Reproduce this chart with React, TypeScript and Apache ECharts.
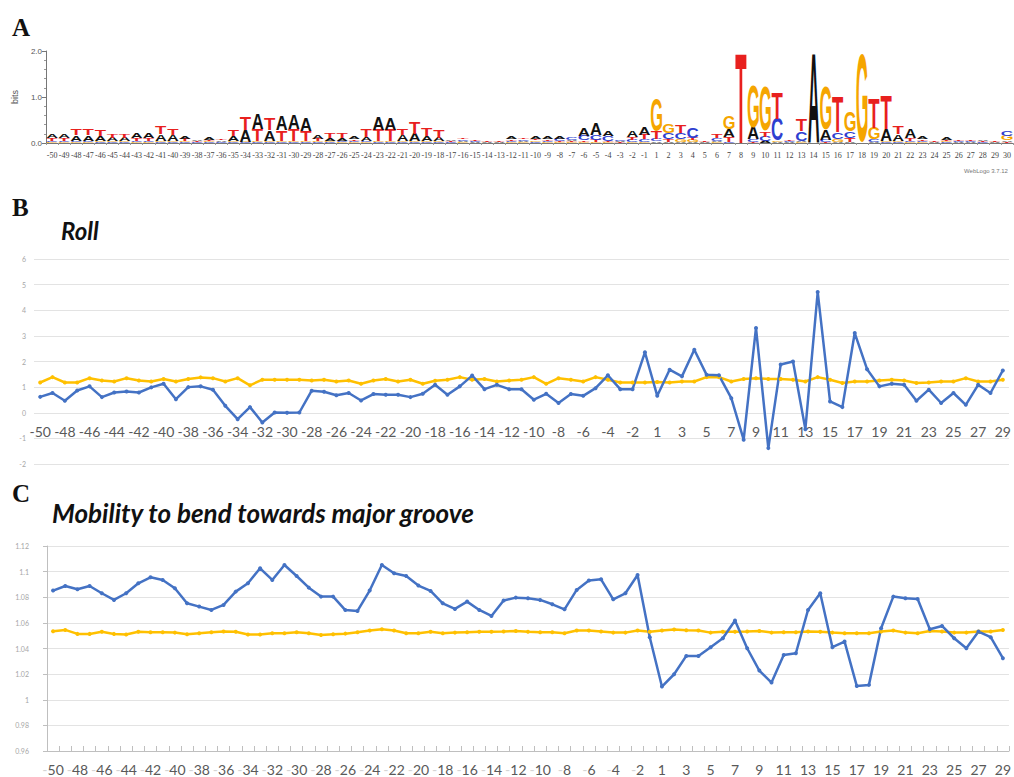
import React, { useEffect, useRef } from "react";
import * as echarts from "echarts";

// ---- Panel A: sequence logo (bits per base, per position) ----
const logoPositions = [
  "-50", "-49", "-48", "-47", "-46", "-45", "-44", "-43", "-42", "-41",
  "-40", "-39", "-38", "-37", "-36", "-35", "-34", "-33", "-32", "-31",
  "-30", "-29", "-28", "-27", "-26", "-25", "-24", "-23", "-22", "-21",
  "-20", "-19", "-18", "-17", "-16", "-15", "-14", "-13", "-12", "-11",
  "-10", "-9", "-8", "-7", "-6", "-5", "-4", "-3", "-2", "-1",
  "1", "2", "3", "4", "5", "6", "7", "8", "9", "10",
  "11", "12", "13", "14", "15", "16", "17", "18", "19", "20",
  "21", "22", "23", "24", "25", "26", "27", "28", "29", "30",
];

const bitsA = [
  0.07, 0.07, 0.12, 0.12, 0.12, 0.07, 0.07, 0.12, 0.12, 0.15,
  0.13, 0.06, 0.03, 0.04, 0.03, 0.10, 0.24, 0.33, 0.23, 0.30,
  0.30, 0.28, 0.07, 0.06, 0.06, 0.06, 0.08, 0.28, 0.26, 0.13,
  0.16, 0.12, 0.07, 0.03, 0.03, 0.02, 0.01, 0.01, 0.04, 0.03,
  0.04, 0.06, 0.06, 0.03, 0.17, 0.24, 0.12, 0.02, 0.14, 0.17,
  0.03, 0.03, 0.03, 0.03, 0.01, 0.03, 0.18, 0.0, 0.27, 0.04,
  0.02, 0.02, 0.03, 1.95, 0.22, 0.03, 0.03, 0.0, 0.03, 0.25,
  0.15, 0.20, 0.04, 0.01, 0.04, 0.02, 0.02, 0.03, 0.01, 0.03,
];
const bitsC = [
  0.03, 0.03, 0.03, 0.03, 0.02, 0.02, 0.02, 0.03, 0.03, 0.02,
  0.02, 0.02, 0.02, 0.02, 0.02, 0.02, 0.02, 0.02, 0.02, 0.02,
  0.02, 0.02, 0.02, 0.02, 0.03, 0.03, 0.03, 0.02, 0.02, 0.02,
  0.02, 0.02, 0.02, 0.02, 0.03, 0.02, 0.01, 0.01, 0.03, 0.03,
  0.03, 0.03, 0.04, 0.06, 0.10, 0.12, 0.10, 0.02, 0.05, 0.05,
  0.06, 0.15, 0.14, 0.24, 0.01, 0.05, 0.02, 0.0, 0.04, 0.10,
  0.47, 0.02, 0.20, 0.0, 0.04, 0.15, 0.14, 0.0, 0.05, 0.02,
  0.02, 0.03, 0.03, 0.01, 0.02, 0.02, 0.02, 0.02, 0.01, 0.12,
];
const bitsG = [
  0.02, 0.02, 0.02, 0.02, 0.02, 0.02, 0.02, 0.02, 0.02, 0.02,
  0.02, 0.02, 0.01, 0.02, 0.01, 0.02, 0.02, 0.02, 0.02, 0.02,
  0.02, 0.02, 0.02, 0.02, 0.02, 0.02, 0.02, 0.02, 0.02, 0.02,
  0.02, 0.02, 0.02, 0.01, 0.02, 0.01, 0.01, 0.01, 0.02, 0.02,
  0.03, 0.02, 0.02, 0.02, 0.03, 0.03, 0.02, 0.01, 0.02, 0.03,
  0.70, 0.20, 0.05, 0.04, 0.01, 0.02, 0.29, 0.0, 0.92, 0.97,
  0.03, 0.01, 0.02, 0.0, 0.95, 0.06, 0.42, 1.91, 0.25, 0.03,
  0.02, 0.02, 0.02, 0.01, 0.02, 0.01, 0.01, 0.01, 0.01, 0.10,
];
const bitsT = [
  0.06, 0.06, 0.14, 0.14, 0.13, 0.09, 0.09, 0.05, 0.05, 0.17,
  0.14, 0.04, 0.02, 0.03, 0.03, 0.14, 0.27, 0.26, 0.25, 0.23,
  0.25, 0.21, 0.05, 0.10, 0.12, 0.03, 0.16, 0.25, 0.24, 0.15,
  0.24, 0.16, 0.17, 0.02, 0.03, 0.02, 0.01, 0.01, 0.03, 0.03,
  0.03, 0.03, 0.03, 0.02, 0.03, 0.04, 0.03, 0.01, 0.06, 0.10,
  0.16, 0.04, 0.17, 0.04, 0.01, 0.07, 0.10, 1.95, 0.03, 0.12,
  0.55, 0.02, 0.24, 0.0, 0.03, 0.76, 0.08, 0.0, 0.65, 0.72,
  0.16, 0.05, 0.03, 0.01, 0.03, 0.02, 0.02, 0.02, 0.01, 0.02,
];

const baseColors: Record<string, string> = {
  A: "#111111",
  C: "#2f3fd0",
  G: "#f5a500",
  T: "#e8201e",
};

// ---- Panels B and C: structural profiles along the promoter ----
const profilePositions = [
  "-50", "-49", "-48", "-47", "-46", "-45", "-44", "-43", "-42", "-41",
  "-40", "-39", "-38", "-37", "-36", "-35", "-34", "-33", "-32", "-31",
  "-30", "-29", "-28", "-27", "-26", "-25", "-24", "-23", "-22", "-21",
  "-20", "-19", "-18", "-17", "-16", "-15", "-14", "-13", "-12", "-11",
  "-10", "-9", "-8", "-7", "-6", "-5", "-4", "-3", "-2", "-1",
  "1", "2", "3", "4", "5", "6", "7", "8", "9", "10",
  "11", "12", "13", "14", "15", "16", "17", "18", "19", "20",
  "21", "22", "23", "24", "25", "26", "27", "28", "29",
];

const rollProfile = [
  0.62, 0.77, 0.47, 0.87, 1.03, 0.61, 0.79, 0.83, 0.79, 0.99,
  1.13, 0.53, 1.0, 1.03, 0.9, 0.27, -0.25, 0.22, -0.38, 0.01,
  0.0, 0.01, 0.86, 0.82, 0.68, 0.77, 0.48, 0.73, 0.7, 0.7,
  0.61, 0.74, 1.09, 0.7, 1.03, 1.45, 0.92, 1.09, 0.92, 0.92,
  0.51, 0.74, 0.38, 0.73, 0.66, 0.96, 1.46, 0.92, 0.92, 2.36,
  0.66, 1.68, 1.42, 2.46, 1.48, 1.46, 0.57, -1.05, 3.31, -1.38,
  1.88, 2.0, -0.64, 4.71, 0.44, 0.22, 3.11, 1.7, 1.03, 1.13,
  1.09, 0.47, 0.9, 0.38, 0.77, 0.31, 1.09, 0.77, 1.65,
];
const rollBackground = [
  1.18, 1.39, 1.18, 1.18, 1.35, 1.26, 1.22, 1.35, 1.26, 1.22,
  1.32, 1.22, 1.32, 1.38, 1.35, 1.22, 1.35, 1.07, 1.29, 1.29,
  1.29, 1.29, 1.26, 1.29, 1.22, 1.26, 1.13, 1.26, 1.32, 1.22,
  1.29, 1.13, 1.25, 1.29, 1.39, 1.29, 1.32, 1.22, 1.26, 1.29,
  1.39, 1.13, 1.35, 1.29, 1.22, 1.39, 1.29, 1.18, 1.18, 1.18,
  1.2, 1.18, 1.22, 1.22, 1.39, 1.39, 1.22, 1.32, 1.35, 1.32,
  1.32, 1.29, 1.22, 1.39, 1.29, 1.16, 1.22, 1.22, 1.26, 1.29,
  1.26, 1.16, 1.18, 1.22, 1.22, 1.35, 1.22, 1.22, 1.29,
];

const mobilityProfile = [
  1.0852, 1.0888, 1.0862, 1.0888, 1.0831, 1.0779, 1.0831, 1.0909, 1.0956, 1.0935,
  1.087, 1.0753, 1.0727, 1.0701, 1.074, 1.0844, 1.0909, 1.1026, 1.0935, 1.1052,
  1.0966, 1.0875, 1.0805, 1.0805, 1.07, 1.0693, 1.0852, 1.1052, 1.0987, 1.0966,
  1.0891, 1.0849, 1.0753, 1.0709, 1.0766, 1.0701, 1.0654, 1.0774, 1.0797, 1.0792,
  1.0779, 1.0745, 1.0706, 1.0857, 1.093, 1.094, 1.0784, 1.0831, 1.0974, 1.0488,
  1.0103, 1.0199, 1.0342, 1.0342, 1.041, 1.048, 1.0618, 1.0402, 1.0228, 1.0134,
  1.035, 1.0363, 1.0701, 1.0831, 1.041, 1.0454, 1.0108, 1.0116, 1.0558, 1.0805,
  1.0792, 1.0787, 1.055, 1.0576, 1.048, 1.0402, 1.0532, 1.0488, 1.0324,
];
const mobilityBackground = [
  1.0535, 1.0545, 1.0514, 1.0514, 1.053, 1.0514, 1.0509, 1.053, 1.0527, 1.0527,
  1.0524, 1.0511, 1.0519, 1.0527, 1.0532, 1.053, 1.0509, 1.0509, 1.0519, 1.0519,
  1.0527, 1.0519, 1.0506, 1.0511, 1.0516, 1.0527, 1.054, 1.055, 1.054, 1.0519,
  1.0519, 1.053, 1.0519, 1.0524, 1.0527, 1.053, 1.053, 1.0532, 1.0537, 1.053,
  1.0527, 1.0527, 1.0519, 1.054, 1.054, 1.0532, 1.0524, 1.0524, 1.054, 1.053,
  1.054, 1.0548, 1.0542, 1.054, 1.0524, 1.053, 1.053, 1.0532, 1.0537, 1.0524,
  1.0527, 1.0527, 1.0532, 1.053, 1.0524, 1.0519, 1.0519, 1.0519, 1.0532, 1.054,
  1.0524, 1.0519, 1.0537, 1.0532, 1.0524, 1.0524, 1.0532, 1.0532, 1.0545,
];

const rollTicks = [-2, 6];
const mobilityTicks = [0.96, 1.12];

const BLUE = "#4472C4";
const YELLOW = "#FFC000";
const LOGO_FONT = "Liberation Sans";

type GlyphMetrics = { asc: number; desc: number; left: number; right: number; central: number };

function measureGlyphs(): Record<string, GlyphMetrics> {
  const canvas = document.createElement("canvas");
  const ctx = canvas.getContext("2d")!;
  ctx.font = `bold 100px "${LOGO_FONT}"`;
  ctx.textAlign = "center";
  ctx.textBaseline = "alphabetic";
  const out: Record<string, GlyphMetrics> = {};
  for (const ch of ["A", "C", "G", "T"]) {
    const m = ctx.measureText(ch);
    const fa = (m as any).fontBoundingBoxAscent ?? 90.5;
    const fd = (m as any).fontBoundingBoxDescent ?? 21.2;
    out[ch] = {
      asc: m.actualBoundingBoxAscent,
      desc: m.actualBoundingBoxDescent,
      left: m.actualBoundingBoxLeft,
      right: m.actualBoundingBoxRight,
      central: (fa - fd) / 2,
    };
  }
  return out;
}

export default function App() {
  const ref = useRef<HTMLDivElement>(null);

  useEffect(() => {
    if (!ref.current) return;
    const glyphs = measureGlyphs();
    const bits: Record<string, number[]> = { A: bitsA, C: bitsC, G: bitsG, T: bitsT };
    const chart = echarts.init(ref.current, undefined, { renderer: "svg" });

    const grayAxisLabel = { color: "#a6a6a6", fontSize: 7, fontFamily: "Lato" };
    const catLabel = { color: "#595959", fontSize: 14, fontFamily: "Lato" };

    chart.setOption({
      animation: false,
      backgroundColor: "#ffffff",
      grid: [
        { left: 46, top: 51, width: 972, height: 92 },
        { left: 34, top: 259, width: 975, height: 205 },
        { left: 47, top: 546, width: 962, height: 205 },
      ],
      xAxis: [
        {
          gridIndex: 0,
          type: "category",
          data: logoPositions,
          boundaryGap: true,
          axisLine: { show: true, lineStyle: { color: "#777", width: 1 } },
          axisTick: { show: true, length: 2, lineStyle: { color: "#999" } },
          axisLabel: {
            interval: 0,
            fontSize: 8,
            margin: 8,
            color: "#444",
            fontFamily: '"Liberation Sans Narrow", "Liberation Serif", serif',
          },
          splitLine: { show: false },
        },
        {
          gridIndex: 1,
          type: "category",
          data: profilePositions,
          boundaryGap: true,
          axisLine: { show: false, onZero: false },
          axisTick: { show: false },
          // labels sit just under the zero line, across the -1 gridline
          axisLabel: { ...catLabel, interval: 1, margin: -40 },
        },
        {
          gridIndex: 2,
          type: "category",
          data: profilePositions,
          boundaryGap: true,
          axisLine: { show: true, lineStyle: { color: "#bfbfbf" } },
          axisTick: { show: true, inside: true, length: 5, interval: 0, lineStyle: { color: "#bfbfbf" } },
          axisLabel: {
            interval: 1,
            margin: 11,
            formatter: (v: string) =>
              v.startsWith("-") ? `{m|-}{n|${v.slice(1)}}` : `{n|${v}}`,
            rich: {
              m: { ...catLabel, color: "#d4d4d4" },
              n: { ...catLabel },
            },
          },
        },
      ],
      yAxis: [
        {
          gridIndex: 0,
          type: "value",
          min: 0,
          max: 2,
          interval: 1,
          name: "bits",
          nameLocation: "middle",
          nameGap: 24,
          nameRotate: 90,
          nameTextStyle: { color: "#555", fontSize: 9, fontFamily: "Liberation Sans" },
          axisLine: { show: true, lineStyle: { color: "#777" } },
          axisTick: { show: true, length: 4, lineStyle: { color: "#777" } },
          minorTick: { show: true, splitNumber: 5, length: 2, lineStyle: { color: "#999" } },
          axisLabel: {
            formatter: (v: number) => v.toFixed(1),
            fontSize: 8,
            color: "#555",
            margin: 4,
            fontFamily: "Liberation Sans",
          },
          splitLine: { show: false },
        },
        {
          gridIndex: 1,
          type: "value",
          min: rollTicks[0],
          max: rollTicks[1],
          interval: 1,
          axisLine: { show: false },
          axisTick: { show: false },
          axisLabel: { ...grayAxisLabel, margin: 8 },
          splitLine: { show: true, lineStyle: { color: "#e3e3e3", width: 1 } },
        },
        {
          gridIndex: 2,
          type: "value",
          min: mobilityTicks[0],
          max: mobilityTicks[1],
          interval: 0.02,
          axisLine: { show: true, lineStyle: { color: "#bfbfbf" } },
          axisTick: { show: true, length: 4, lineStyle: { color: "#bfbfbf" } },
          axisLabel: {
            ...grayAxisLabel,
            margin: 18,
            formatter: (v: number) => String(Number(v.toFixed(2))),
          },
          splitLine: { show: true, lineStyle: { color: "#e3e3e3", width: 1 } },
        },
      ],
      series: [
        {
          type: "custom",
          xAxisIndex: 0,
          yAxisIndex: 0,
          silent: true,
          clip: false,
          data: logoPositions.map((_, i) => [i]),
          renderItem: (params: any, api: any) => {
            const i = api.value(0);
            const colW = api.size([1, 0])[0];
            const xc = api.coord([i, 0])[0];
            const stack = ["A", "C", "G", "T"]
              .map((l) => ({ l, h: bits[l][i] }))
              .filter((s) => s.h > 0)
              .sort((a, b) => a.h - b.h);
            let base = 0;
            const children: any[] = [];
            for (const s of stack) {
              const yb = api.coord([i, base])[1];
              const yt = api.coord([i, base + s.h])[1];
              base += s.h;
              const g = glyphs[s.l];
              const sy = (yb - yt) / (g.asc + g.desc);
              const sx = (colW * 0.92) / (g.left + g.right);
              children.push({
                type: "text",
                x: xc - (sx * (g.right - g.left)) / 2,
                y: yb - sy * (g.central + g.desc),
                scaleX: sx,
                scaleY: sy,
                style: {
                  text: s.l,
                  fontSize: 100,
                  fontWeight: "bold",
                  fontFamily: LOGO_FONT,
                  fill: baseColors[s.l],
                  align: "center",
                  verticalAlign: "middle",
                },
              });
            }
            return { type: "group", children };
          },
        },
        {
          type: "line",
          xAxisIndex: 1,
          yAxisIndex: 1,
          data: rollBackground,
          symbol: "circle",
          symbolSize: 4,
          showAllSymbol: true,
          lineStyle: { color: YELLOW, width: 2.5 },
          itemStyle: { color: YELLOW },
        },
        {
          type: "line",
          xAxisIndex: 1,
          yAxisIndex: 1,
          data: rollProfile,
          symbol: "circle",
          symbolSize: 4,
          showAllSymbol: true,
          lineStyle: { color: BLUE, width: 2.5 },
          itemStyle: { color: BLUE },
        },
        {
          type: "line",
          xAxisIndex: 2,
          yAxisIndex: 2,
          data: mobilityBackground,
          symbol: "circle",
          symbolSize: 4,
          showAllSymbol: true,
          lineStyle: { color: YELLOW, width: 2.5 },
          itemStyle: { color: YELLOW },
        },
        {
          type: "line",
          xAxisIndex: 2,
          yAxisIndex: 2,
          data: mobilityProfile,
          symbol: "circle",
          symbolSize: 4,
          showAllSymbol: true,
          lineStyle: { color: BLUE, width: 2.5 },
          itemStyle: { color: BLUE },
        },
      ],
      graphic: [
        {
          type: "text",
          left: 12,
          top: 15,
          style: { text: "A", font: 'bold 25px "Liberation Serif"', fill: "#111" },
        },
        {
          type: "text",
          left: 12,
          top: 195,
          style: { text: "B", font: 'bold 25px "Liberation Serif"', fill: "#111" },
        },
        {
          type: "text",
          left: 12,
          top: 481,
          style: { text: "C", font: 'bold 25px "Liberation Serif"', fill: "#111" },
        },
        {
          type: "text",
          left: 61,
          top: 218,
          style: { text: "Roll", font: 'italic bold 24px "Lato"', fill: "#111" },
        },
        {
          type: "text",
          left: 52,
          top: 500,
          style: {
            text: "Mobility to bend towards major groove",
            font: 'italic bold 26px "Lato"',
            fill: "#111",
          },
        },
        {
          type: "text",
          left: 964,
          top: 168,
          style: { text: "WebLogo 3.7.12", font: '6px "Liberation Sans"', fill: "#777" },
        },
      ],
    });

    return () => chart.dispose();
  }, []);

  return (
    <div
      ref={ref}
      style={{ position: "absolute", left: 0, top: 0, width: 1014, height: 777, background: "#fff" }}
    />
  );
}
